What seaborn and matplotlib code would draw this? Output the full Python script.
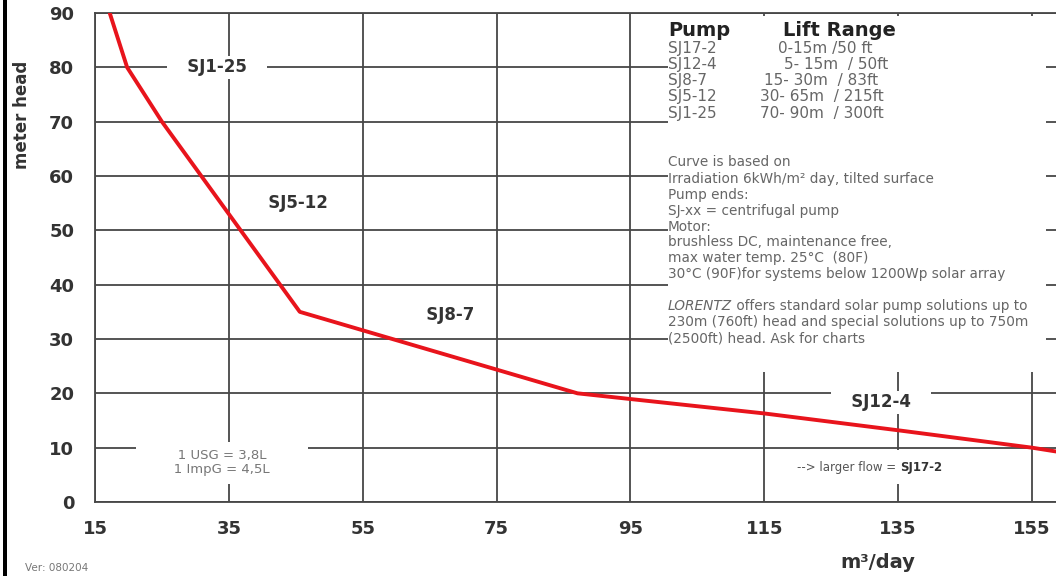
import matplotlib
matplotlib.use("Agg")
import matplotlib.pyplot as plt
import seaborn as sns
import pandas as pd
from matplotlib.patches import Rectangle

# ---- data ----
flow_m3_day = [17.2, 19.8, 25.0, 35.0, 45.6, 87.1, 115.0, 135.0, 155.0, 158.6]
head_m = [90.0, 80.0, 70.0, 53.0, 35.0, 20.0, 16.3, 13.2, 10.0, 9.3]
x_ticks = [15, 35, 55, 75, 95, 115, 135, 155]
y_ticks = [0, 10, 20, 30, 40, 50, 60, 70, 80, 90]
pump_names = ["SJ17-2", "SJ12-4", "SJ8-7", "SJ5-12", "SJ1-25"]
lift_ranges = ["0-15m /50 ft", "5- 15m  / 50ft", "15- 30m  / 83ft",
               "30- 65m  / 215ft", "70- 90m  / 300ft"]
curve_labels = ["SJ1-25", "SJ5-12", "SJ8-7", "SJ12-4"]
note_lines = ["Curve is based on",
              "Irradiation 6kWh/m² day, tilted surface",
              "Pump ends:",
              "SJ-xx = centrifugal pump",
              "Motor:",
              "brushless DC, maintenance free,",
              "max water temp. 25°C  (80F)",
              "30°C (90F)for systems below 1200Wp solar array"]
lorentz_lines = [" offers standard solar pump solutions up to",
                 "230m (760ft) head and special solutions up to 750m",
                 "(2500ft) head. Ask for charts"]

sns.set_style("white")
plt.rcParams['font.family'] = ['DejaVu Sans']

W, H = 1056, 576
X0, X1, Y0, Y1 = 15, 158.6, 0, 90
AX_L, AX_R, AX_T, AX_B = 95, 1056, 13, 502

fig = plt.figure(figsize=(W / 100, H / 100), dpi=100)
ax = fig.add_axes([AX_L / W, 1 - AX_B / H, (AX_R - AX_L) / W, (AX_B - AX_T) / H])


def at(px, py):
    """pixel position of the reference -> data coords (for text placement)"""
    x = X0 + (px - AX_L) * (X1 - X0) / (AX_R - AX_L)
    y = Y1 - (py - AX_T) * (Y1 - Y0) / (AX_B - AX_T)
    return x, y


df = pd.DataFrame({"flow": flow_m3_day, "head": head_m})
sns.lineplot(data=df, x="flow", y="head", sort=False, color="#e8141c",
             linewidth=2.8, ax=ax, zorder=4)

ax.set_xlim(X0, X1)
ax.set_ylim(Y0, Y1)
ax.set_xticks(x_ticks)
ax.set_yticks(y_ticks)
ax.set_xlabel("")
ax.set_ylabel("")
gcol = "#474747"
glw = 1.3
ax.grid(True, color=gcol, linewidth=glw)
ax.set_axisbelow(True)
ax.tick_params(axis="x", length=4, width=glw, color=gcol, pad=9,
               labelsize=13, labelcolor="#333333")
ax.tick_params(axis="y", length=7, width=glw, color=gcol, pad=8,
               labelsize=13, labelcolor="#333333")
for lab in ax.get_xticklabels() + ax.get_yticklabels():
    lab.set_fontweight("bold")
for s in ["left", "bottom", "top"]:
    ax.spines[s].set_color(gcol)
    ax.spines[s].set_linewidth(glw)
ax.spines["right"].set_visible(False)

# white panel behind the legend/notes text
bx0, by0 = at(668, 372)
bx1, by1 = at(1046, 16)
ax.add_patch(Rectangle((bx0, by0), bx1 - bx0, by1 - by0, facecolor="white",
                       edgecolor="none", zorder=1))

# curve segment labels
white_box = dict(facecolor="white", edgecolor="none", boxstyle="square,pad=0.15")
label_pos = [(217, 67), (298, 203), (450, 315), (881, 402)]
for name, (px, py) in zip(curve_labels, label_pos):
    x, y = at(px, py)
    ax.text(x, y, "   " + name + "   ", ha="center", va="center", fontsize=12,
            fontweight="bold", color="#333333", bbox=white_box, zorder=3)

# conversion note
x, y = at(222, 463)
ax.text(x, y, "       1 USG = 3,8L       \n       1 ImpG = 4,5L       ", ha="center",
        va="center", fontsize=9.5, color="#777777", linespacing=1.1,
        bbox=dict(facecolor="white", edgecolor="none", boxstyle="square,pad=0.6"),
        zorder=3)

# larger flow note
x, y = at(797, 467)
t = ax.text(x, y, "--> larger flow = ", ha="left", va="center", fontsize=8.5,
            color="#555555", zorder=3.5)
ax.annotate("SJ17-2", xy=(1, 0.5), xycoords=t, ha="left", va="center",
            fontsize=8.5, fontweight="bold", color="#333333",
            bbox=dict(facecolor="white", edgecolor="none", boxstyle="square,pad=0.9"),
            zorder=3)

# legend table
x, y = at(668, 31)
ax.text(x, y, "Pump", ha="left", va="center", fontsize=14, fontweight="bold",
        color="#222222", zorder=3)
x, y = at(783, 31)
ax.text(x, y, "Lift Range", ha="left", va="center", fontsize=14,
        fontweight="bold", color="#222222", zorder=3)
row_y = [48, 65, 81, 97, 114]
range_x = [778, 784, 764, 760, 760]
for name, rng, py, rx in zip(pump_names, lift_ranges, row_y, range_x):
    x, y = at(668, py)
    ax.text(x, y, name, ha="left", va="center", fontsize=11, color="#666666",
            zorder=3)
    x, y = at(rx, py)
    ax.text(x, y, rng, ha="left", va="center", fontsize=11, color="#666666",
            zorder=3)

# notes
nfs = 9.8
note_y = [162, 179, 195, 211, 227, 242, 258, 274]
for line, py in zip(note_lines, note_y):
    x, y = at(668, py)
    ax.text(x, y, line, ha="left", va="center", fontsize=nfs, color="#666666",
            zorder=3)
lor_y = [306, 322, 338]
x, y = at(668, lor_y[0])
t = ax.text(x, y, "LORENTZ", ha="left", va="center", fontsize=nfs,
            style="italic", color="#666666", zorder=3)
ax.annotate(lorentz_lines[0], xy=(1, 0.5), xycoords=t, ha="left", va="center",
            fontsize=nfs, color="#666666", zorder=3)
for line, py in zip(lorentz_lines[1:], lor_y[1:]):
    x, y = at(668, py)
    ax.text(x, y, line, ha="left", va="center", fontsize=nfs, color="#666666",
            zorder=3)

# axis titles and footer
fig.text(878 / W, 1 - 563 / H, "m³/day", ha="center", va="center",
         fontsize=14, fontweight="bold", color="#333333")
fig.text(22 / W, 1 - 115 / H, "meter head", ha="center", va="center",
         rotation=90, fontsize=12, fontweight="bold", color="#333333")
fig.text(25 / W, 1 - 568 / H, "Ver: 080204", ha="left", va="center",
         fontsize=7.5, color="#777777")

# thick black frame line at the left edge
fig.add_artist(Rectangle((3 / W, 0), 4 / W, 1, transform=fig.transFigure,
                         facecolor="black", edgecolor="none"))

fig.savefig("out.png", dpi=100)
